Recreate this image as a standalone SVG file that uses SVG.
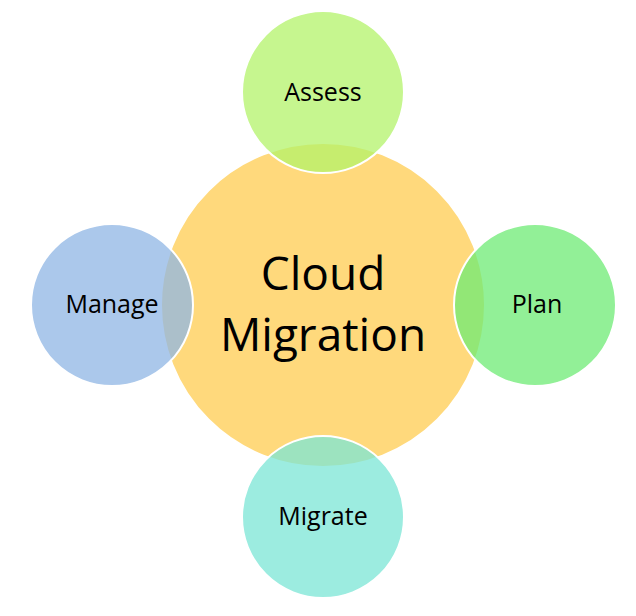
<svg xmlns="http://www.w3.org/2000/svg" width="636" height="616" viewBox="0 0 636 616">
<style>
.c{stroke:#fff;stroke-width:2}
.s{fill-opacity:0.75}
text{font-family:"Open Sans","Liberation Sans",sans-serif;fill:#000;text-anchor:middle}
.l{font-size:25px}
.b{font-size:46px}
</style>
<rect width="636" height="616" fill="#fff"/>
<g id="center"><circle class="c" cx="323" cy="305" r="162" fill="#FFD97C"/>
<text class="b" x="323" y="290">Cloud</text><text class="b" x="323" y="351">Migration</text></g>
<g id="assess"><circle class="c s" cx="323" cy="92" r="81" fill="#B3F36A"/><text class="l" x="323" y="101">Assess</text></g>
<g id="plan"><circle class="c s" cx="535" cy="305" r="81" fill="#6EEB74"/><text class="l" x="537" y="313">Plan</text></g>
<g id="manage"><circle class="c s" cx="112" cy="305" r="81" fill="#8FB6E4"/><text class="l" x="112" y="313">Manage</text></g>
<g id="migrate"><circle class="c s" cx="323" cy="517" r="81" fill="#7BE6D5"/><text class="l" x="323" y="525">Migrate</text></g>
<g id="connectors"></g>
</svg>
